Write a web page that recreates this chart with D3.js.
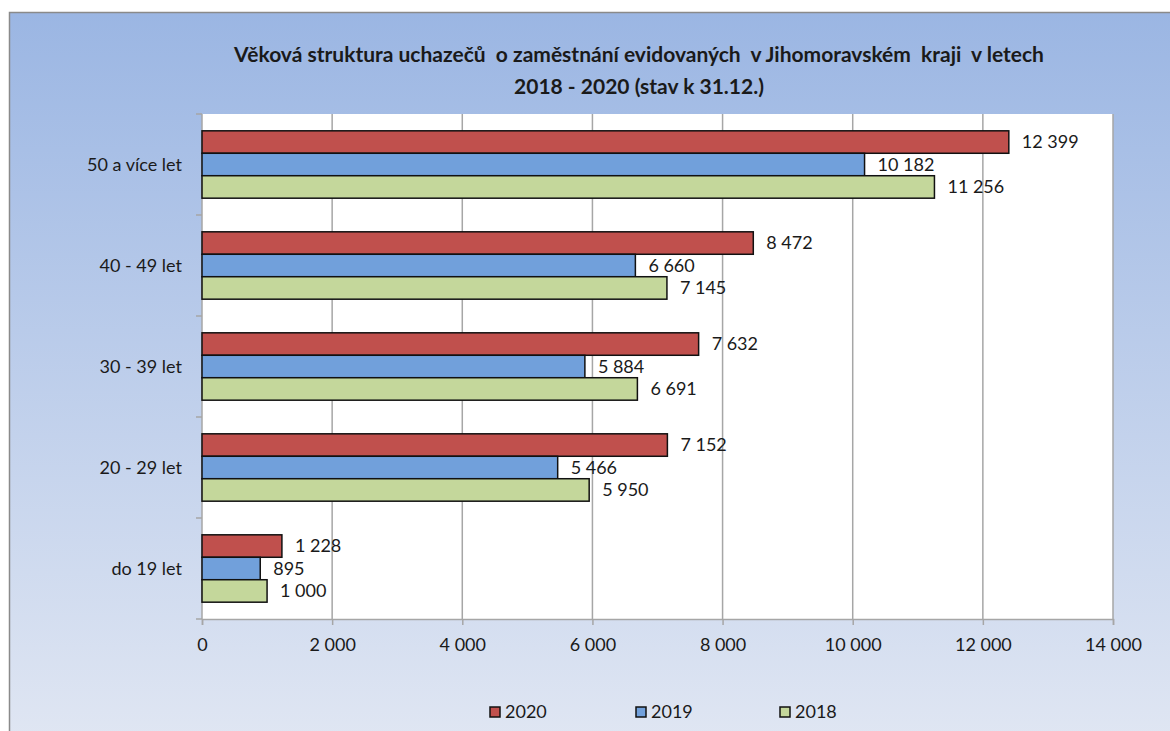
<!DOCTYPE html>
<html>
<head>
<meta charset="utf-8">
<script src="https://cdn.jsdelivr.net/npm/d3@7"></script>
<style>
  body { margin: 0; background: #fff; }
  svg { display: block; }
  text { font-family: Lato, "Open Sans", sans-serif; fill: #1a1a1a; }
</style>
</head>
<body>
<svg id="chart"></svg>
<script>
const categories = ["50 a více let", "40 - 49 let", "30 - 39 let", "20 - 29 let", "do 19 let"];
const years = ["2020", "2019", "2018"];
const values2020 = [12399, 8472, 7632, 7152, 1228];
const values2019 = [10182, 6660, 5884, 5466, 895];
const values2018 = [11256, 7145, 6691, 5950, 1000];
const xTicks = [0, 2000, 4000, 6000, 8000, 10000, 12000, 14000];
const titleLines = [
  "Věková struktura uchazečů  o zaměstnání evidovaných  v Jihomoravském  kraji  v letech",
  "2018 - 2020 (stav k 31.12.)"
];

const colors = { "2020": "#c0504d", "2019": "#71a0db", "2018": "#c4d79b" };
const seriesValues = { "2020": values2020, "2019": values2019, "2018": values2018 };

const W = 1170, H = 731;
const plot = { left: 202, top: 114, right: 1113, bottom: 619 };
const fontSize = 18;

const fmt = v => d3.format(",")(v).replace(/,/g, " ");

const svg = d3.select("#chart").attr("width", W).attr("height", H);

// background gradient
const defs = svg.append("defs");
const grad = defs.append("linearGradient").attr("id", "bg")
  .attr("x1", 0).attr("y1", 0).attr("x2", 0).attr("y2", 1);
grad.append("stop").attr("offset", "0%").attr("stop-color", "#9bb6e3");
grad.append("stop").attr("offset", "100%").attr("stop-color", "#e1e7f3");

svg.append("rect")
  .attr("x", 9.5).attr("y", 12.5)
  .attr("width", W + 10).attr("height", H + 10)
  .attr("fill", "url(#bg)")
  .attr("stroke", "#8a8a8a").attr("stroke-width", 1.5);

// title
svg.append("text")
  .attr("text-anchor", "middle")
  .attr("font-weight", "bold")
  .attr("font-size", 21)
  .selectAll("tspan")
  .data(titleLines)
  .join("tspan")
  .attr("x", 639)
  .attr("y", (d, i) => 62 + i * 32)
  .style("white-space", "pre")
  .text(d => d);

// plot area
svg.append("rect")
  .attr("x", plot.left).attr("y", plot.top)
  .attr("width", plot.right - plot.left).attr("height", plot.bottom - plot.top)
  .attr("fill", "#fff");

const x = d3.scaleLinear().domain([0, 14000]).range([plot.left, plot.right]);
const y = d3.scaleBand().domain(categories).range([plot.top, plot.bottom]).paddingInner(0.333).paddingOuter(0.1665);
const yInner = d3.scaleBand().domain(years).range([0, y.bandwidth()]);

// gridlines
svg.append("g")
  .selectAll("line")
  .data(xTicks.slice(1))
  .join("line")
  .attr("x1", d => x(d)).attr("x2", d => x(d))
  .attr("y1", plot.top).attr("y2", plot.bottom)
  .attr("stroke", "#a6a6a6").attr("stroke-width", 1.5);

// x axis
const xAxis = svg.append("g")
  .attr("transform", `translate(0,${plot.bottom})`)
  .call(d3.axisBottom(x).tickValues(xTicks).tickFormat(fmt).tickSize(6).tickPadding(13));
xAxis.select(".domain").attr("stroke", "#a6a6a6").attr("stroke-width", 1.5);
xAxis.selectAll(".tick line").attr("stroke", "#a6a6a6").attr("stroke-width", 1.5);
xAxis.selectAll(".tick text").attr("font-size", fontSize).attr("fill", "#1a1a1a")
  .style("font-family", "Lato, sans-serif");

// y axis
const bandEdges = categories.map(c => y(c) - y.step() * y.paddingInner() / 2).concat([plot.bottom]);
const yAxis = svg.append("g");
yAxis.append("line")
  .attr("x1", plot.left).attr("x2", plot.left)
  .attr("y1", plot.top).attr("y2", plot.bottom)
  .attr("stroke", "#a6a6a6").attr("stroke-width", 1.5);
yAxis.selectAll("line.tk")
  .data(bandEdges)
  .join("line").attr("class", "tk")
  .attr("x1", plot.left - 6).attr("x2", plot.left)
  .attr("y1", d => d).attr("y2", d => d)
  .attr("stroke", "#a6a6a6").attr("stroke-width", 1.5);
yAxis.selectAll("text")
  .data(categories)
  .join("text")
  .attr("x", 182)
  .attr("y", d => y(d) + y.bandwidth() / 2)
  .attr("dy", "0.35em")
  .attr("text-anchor", "end")
  .attr("font-size", fontSize)
  .text(d => d);

// bars
const groups = svg.append("g")
  .selectAll("g")
  .data(categories)
  .join("g")
  .attr("transform", d => `translate(0,${y(d)})`);

const barData = (c, i) => years.map(yr => ({ year: yr, value: seriesValues[yr][i] }));

groups.selectAll("rect")
  .data(barData)
  .join("rect")
  .attr("x", x(0))
  .attr("y", d => yInner(d.year))
  .attr("width", d => x(d.value) - x(0))
  .attr("height", yInner.bandwidth())
  .attr("fill", d => colors[d.year])
  .attr("stroke", "#111")
  .attr("stroke-width", 1.5);

groups.selectAll("text")
  .data(barData)
  .join("text")
  .attr("x", d => x(d.value) + 13)
  .attr("y", d => yInner(d.year) + yInner.bandwidth() / 2)
  .attr("dy", "0.35em")
  .attr("font-size", fontSize)
  .text(d => fmt(d.value));

// legend
const legendX = [490, 636, 780];
const legend = svg.append("g")
  .selectAll("g")
  .data(years)
  .join("g")
  .attr("transform", (d, i) => `translate(${legendX[i]},712)`);
legend.append("rect")
  .attr("x", 0).attr("y", -5)
  .attr("width", 10).attr("height", 10)
  .attr("fill", d => colors[d])
  .attr("stroke", "#111").attr("stroke-width", 1.5);
legend.append("text")
  .attr("x", 15).attr("dy", "0.35em")
  .attr("font-size", fontSize)
  .text(d => d);
</script>
</body>
</html>
